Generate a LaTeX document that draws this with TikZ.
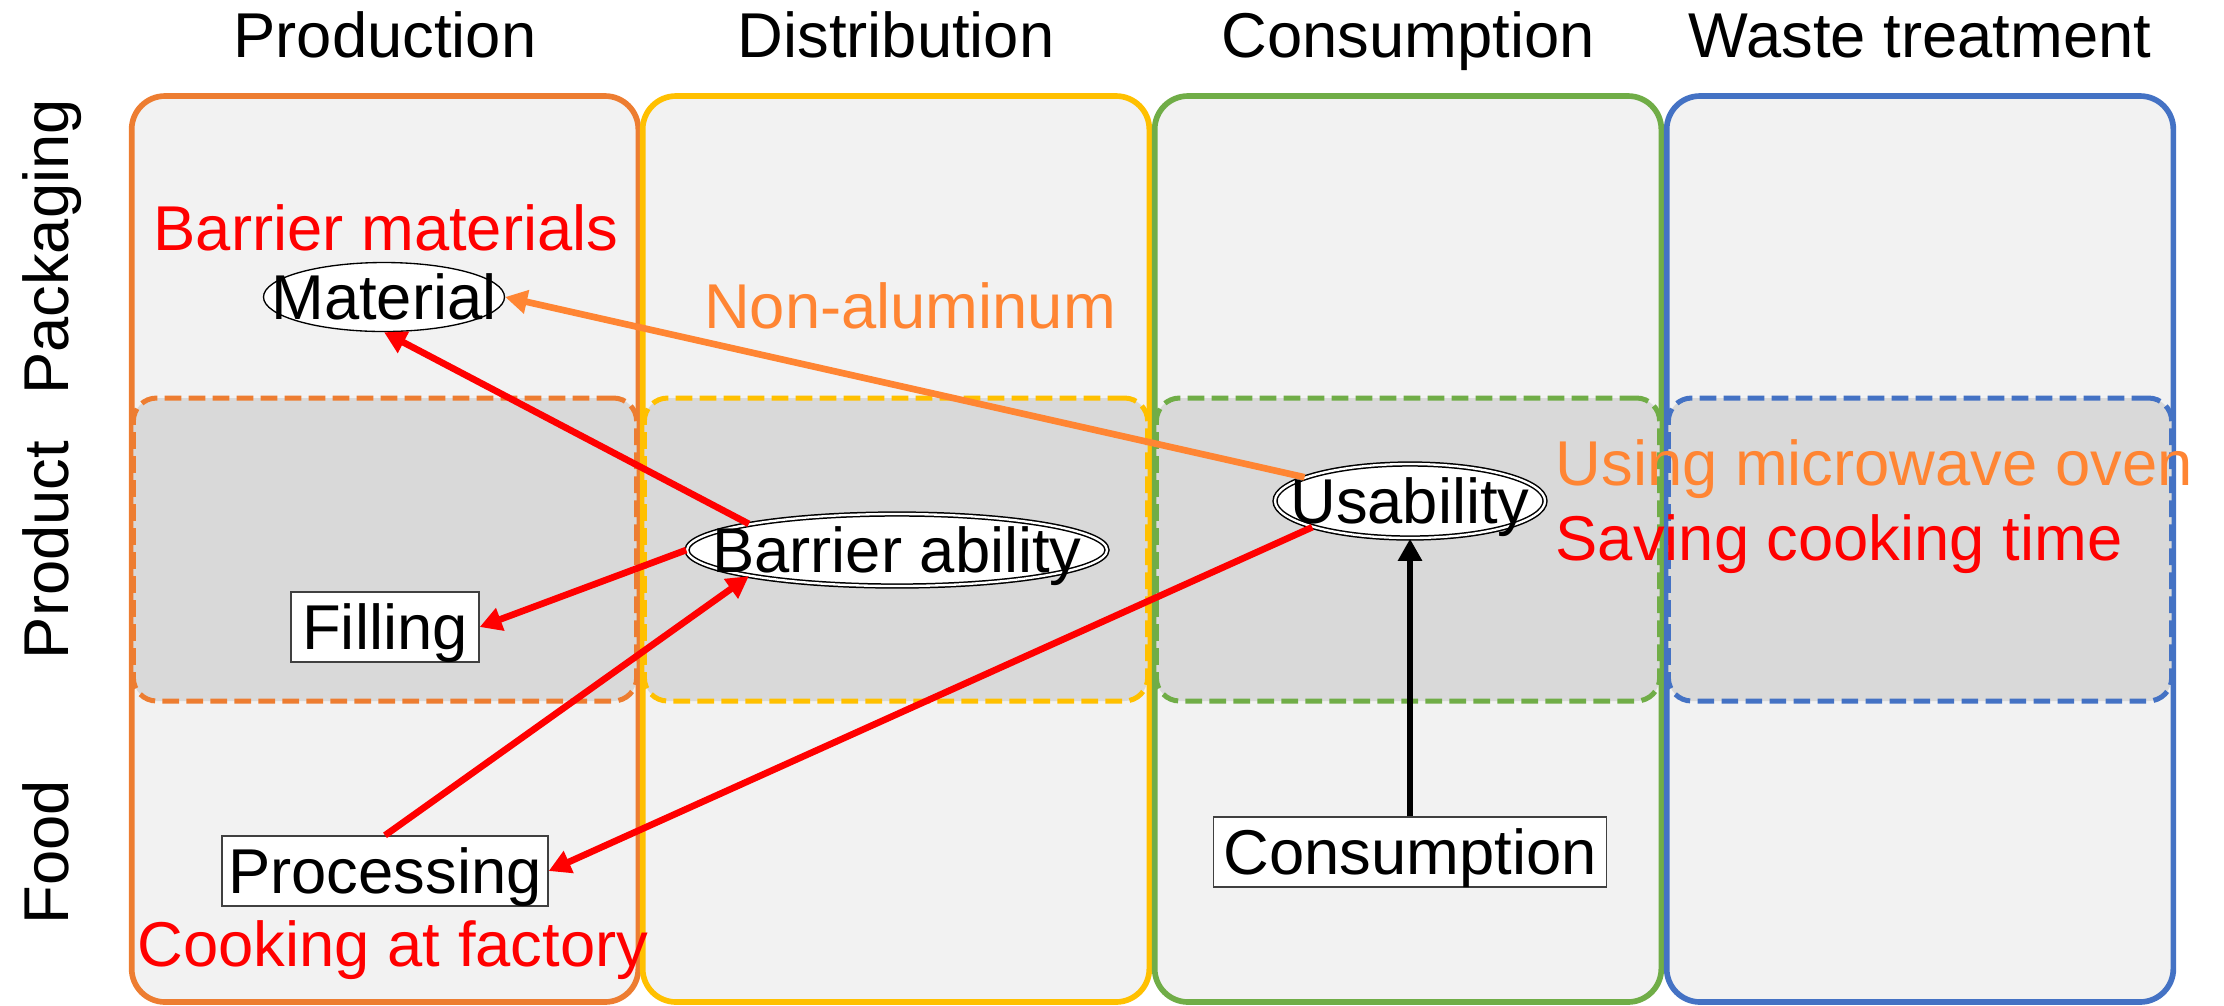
\documentclass[tikz,border=0pt]{standalone}
\usepackage{fontspec}
\setmainfont{Liberation Sans}
\usetikzlibrary{shapes.geometric,arrows.meta}

\definecolor{prodc}{RGB}{237,125,49}
\definecolor{distc}{RGB}{255,192,0}
\definecolor{consc}{RGB}{112,173,71}
\definecolor{wastec}{RGB}{68,114,196}
\definecolor{lightbg}{RGB}{242,242,242}
\definecolor{darkbg}{RGB}{217,217,217}
\definecolor{hotred}{RGB}{255,0,0}
\definecolor{softorange}{RGB}{255,133,51}

\tikzset{
    every node/.style={inner sep=0pt, text height=13.6pt, text depth=0pt},
    column/.style={draw, rectangle, rounded corners=10pt, line width=1.7pt,
        fill=lightbg, minimum width=152pt, minimum height=271.8pt},
    rowband/.style={draw, rectangle, rounded corners=7pt, line width=1.5pt,
        dash pattern=on 5pt off 2.2pt, fill=darkbg,
        minimum width=151pt, minimum height=90.9pt},
    stepbox/.style={draw=black!75, rectangle, line width=0.4pt, fill=white,
        minimum height=21pt},
    aspect/.style={draw, ellipse, line width=0.4pt, fill=white},
    keyaspect/.style={draw, ellipse, double, double distance=0.7pt,
        line width=0.45pt, fill=white},
    arr/.style={line width=2pt, -{Triangle[length=6.6pt,width=6.9pt]}}
}

\begin{document}
\begin{tikzpicture}[x=0.3pt, y=-0.3pt, font=\fontsize{19}{22}\selectfont]

\useasboundingbox (0,0) rectangle (2224,1005);

% stages
\node [column, draw=prodc] (prod) at (385,549){};
\node [column, draw=distc] (dist) at (896,549){};
\node [column, draw=consc] (cons) at (1408,549){};
\node [column, draw=wastec] (waste) at (1920,549){};

\node [rowband, draw=prodc] (prodP) at (385,549.5){};
\node [rowband, draw=distc] (distP) at (896,549.5){};
\node [rowband, draw=consc] (consP) at (1408,549.5){};
\node [rowband, draw=wastec] (wasteP) at (1920,549.5){};

\node (prodT) at (385,35) {Production};
\node (distT) at (896,35) {Distribution};
\node (consT) at (1408,35) {Consumption};
\node (wasteT) at (1920,35) {Waste treatment};

\node [rotate=90] (packR) at (46,247) {Packaging};
\node [rotate=90] (prodR) at (46,550) {Product};
\node [rotate=90] (foodR) at (46,852) {Food};

% items
\node [aspect,
    minimum width=72.3pt,
    minimum height=20.7pt] (mat) at (384,297){\makebox[0pt]{Material}};

\node [keyaspect,
    minimum width=126pt,
    minimum height=21.6pt] (barab) at (897,550){\makebox[0pt]{Barrier ability}};

\node [keyaspect,
    minimum width=81pt,
    minimum height=22.2pt] (usab) at (1410,501){\makebox[0pt]{Usability}};

\node [stepbox, minimum width=56.4pt] (fill) at (385,627){Filling};
\node [stepbox, minimum width=97.8pt] (proc) at (385,871){Processing};
\node [stepbox, minimum width=117.9pt] (consu) at (1410,852){Consumption};

% notes
\node [text=hotred] (barmat) at (386,228) {Barrier materials};
\node [text=softorange] (nonal) at (910,306) {Non-aluminum};
\node [text=hotred] (cook) at (393,944) {Cooking at factory};
\node [text=softorange, anchor=west] (micro) at (1555,463) {Using microwave oven};
\node [text=hotred, anchor=west] (saving) at (1555,538) {Saving cooking time};

% links
\draw [arr, softorange] (usab) -- (mat.east);
\draw [arr, hotred] (barab.170) -- (mat.south);
\draw [arr, hotred] (barab.west) -- (fill.east);
\draw [arr, hotred] (proc.north) -- (barab.190);
\draw [arr, hotred] (usab.195) -- (proc.east);
\draw [arr, black] (consu) -- (usab);

\end{tikzpicture}
\end{document}
